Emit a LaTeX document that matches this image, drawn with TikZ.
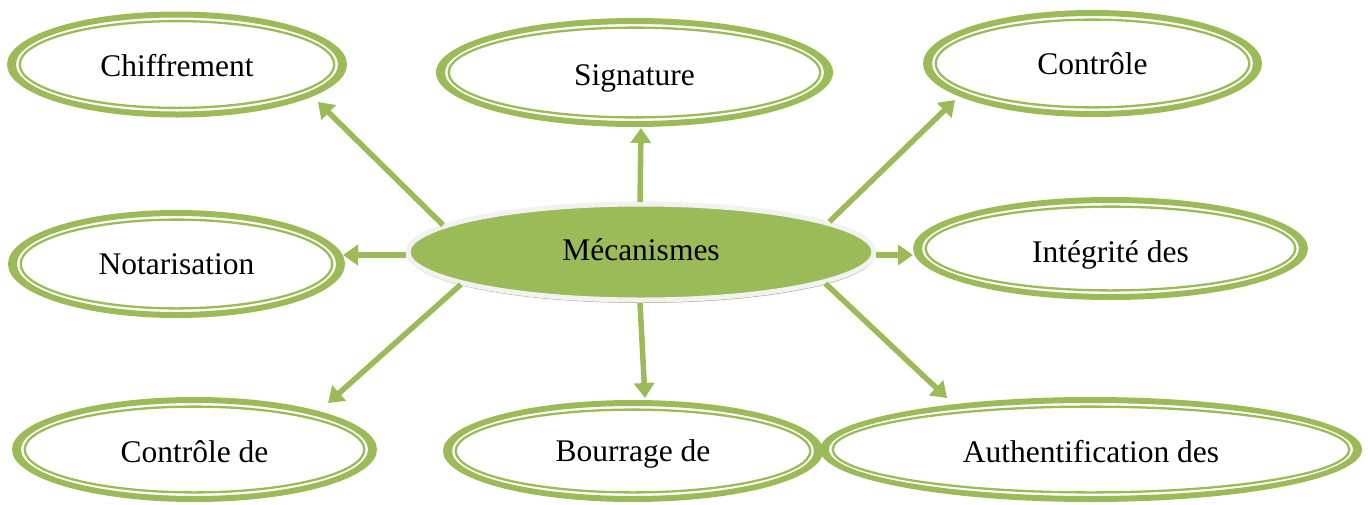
\documentclass[tikz,border=0pt]{standalone}
\usepackage{fontspec}
\setmainfont[Ligatures=NoCommon]{Liberation Serif}
\usetikzlibrary{shapes.geometric,arrows.meta,shadows,calc}

\definecolor{leaf}{HTML}{9BBB59}
\definecolor{rimwhite}{HTML}{F2F2F2}
\definecolor{rimshade}{HTML}{A5AA8C}

\tikzset{
  labelfont/.style={font=\fontsize{31.5}{36}\selectfont, text height=21pt, text depth=0pt},
  bubble/.style={ellipse, inner sep=0pt, outer sep=0pt, labelfont},
  hub/.style={ellipse, inner sep=0pt, fill=leaf, draw=rimwhite, line width=5pt,
    minimum width=466pt, minimum height=96pt, labelfont,
    drop shadow={shadow xshift=0.5pt, shadow yshift=-3pt, fill=rimshade, opacity=1}},
  spoke/.style={draw=leaf, line width=5.5pt,
    -{Triangle[length=15pt,width=20pt]}}
}

% thick-thin double ring around a bubble: #1 node name, #2 x radius, #3 y radius
\newcommand\doublering[3]{%
  \fill[leaf, even odd rule]
    (#1.center) ellipse [x radius=#2pt, y radius=#3pt]
    (#1.center) ellipse [x radius={(#2-9)*1pt}, y radius={(#3-6)*1pt}];
  \draw[leaf, line width=2.3pt]
    (#1.center) ellipse [x radius={(#2-12.7)*1pt}, y radius={(#3-9.6)*1pt}];
}

\begin{document}
\begin{tikzpicture}[x=1pt, y=-1pt]
  \useasboundingbox (0,0) rectangle (1368,504);

  % outer bubbles (text height nudges each label's baseline)
  \node[bubble, minimum width=340pt, minimum height=106pt, text height=23pt] (chif)   at (177,64.5)     {Chiffrement};
  \node[bubble, minimum width=397pt, minimum height=109pt, text height=25pt] (sig)    at (634.5,72.5)   {Signature};
  \node[bubble, minimum width=339pt, minimum height=107pt] (ctrl)   at (1092.5,63.5)  {Contrôle};
  \node[bubble, minimum width=337pt, minimum height=108pt] (nota)   at (176.5,264)    {Notarisation};
  \node[bubble, minimum width=395pt, minimum height=103pt, text height=27pt] (integ)  at (1110.5,248.5) {Intégrité des};
  \node[bubble, minimum width=365pt, minimum height=105pt, text height=25pt] (ctrlde) at (194.5,449.5)  {Contrôle de};
  \node[bubble, minimum width=380pt, minimum height=102pt] (bour)   at (633,451)      {Bourrage de};
  \node[bubble, minimum width=542pt, minimum height=105pt, text height=25pt] (auth)   at (1091,449.5)   {Authentification des};

  \doublering{chif}{170}{53}
  \doublering{sig}{198.5}{54.5}
  \doublering{ctrl}{169.5}{53.5}
  \doublering{nota}{168.5}{54}
  \doublering{integ}{197.5}{51.5}
  \doublering{ctrlde}{182.5}{52.5}
  \doublering{bour}{190}{51}
  \doublering{auth}{271}{52.5}

  % central bubble
  \node[hub, text height=17pt] (m) at (641,252) {Mécanismes};

  % spokes, each from the rim of the central bubble to just outside a ring
  \draw[spoke] ($(m.center)+(-198,-27)$)     -- ($(chif.center)+(141,37.5)$);
  \draw[spoke] ($(m.center)+(-1,-50)$)       -- ($(sig.center)+(6.5,55.5)$);
  \draw[spoke] ($(m.center)+(188.4,-30.3)$)  -- ($(ctrl.center)+(-137.5,36.5)$);
  \draw[spoke] ($(m.center)+(-235.1,3)$)     -- ($(nota.center)+(166.5,-9)$);
  \draw[spoke] ($(m.center)+(235.1,3)$)      -- ($(integ.center)+(-197.5,6.5)$);
  \draw[spoke] ($(m.center)+(-180.2,32.5)$)  -- ($(ctrlde.center)+(133.5,-46.5)$);
  \draw[spoke] ($(m.center)+(-1,51)$)        -- ($(bour.center)+(12,-53)$);
  \draw[spoke] ($(m.center)+(184.4,31.5)$)   -- ($(auth.center)+(-144,-51.5)$);
\end{tikzpicture}
\end{document}
